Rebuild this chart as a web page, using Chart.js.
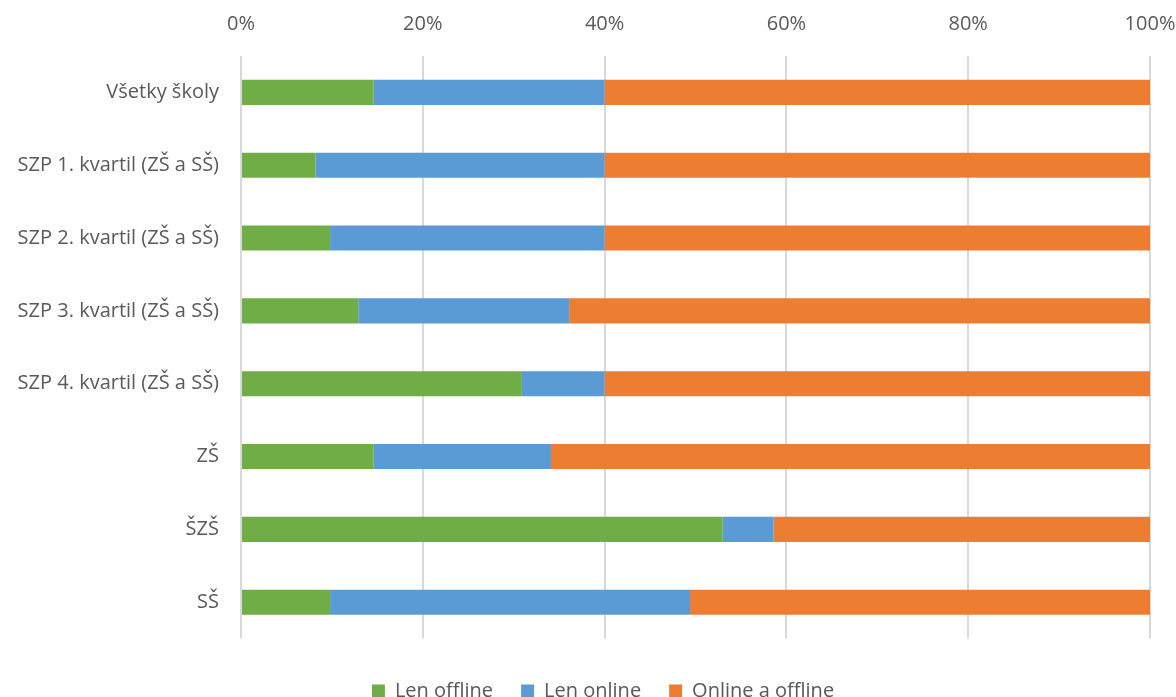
<!DOCTYPE html>
<html>
<head>
<meta charset="utf-8">
<script src="https://cdn.jsdelivr.net/npm/chart.js@4"></script>
<style>
  html, body { margin: 0; padding: 0; background: #fff; }
  #wrap { width: 1176px; height: 697px; }
</style>
</head>
<body>
<div id="wrap"><canvas id="skolyChart" width="1176" height="697"></canvas></div>
<script>
// údaje z grafu (percentá)
const categories = ['Všetky školy', 'SZP 1. kvartil (ZŠ a SŠ)', 'SZP 2. kvartil (ZŠ a SŠ)', 'SZP 3. kvartil (ZŠ a SŠ)', 'SZP 4. kvartil (ZŠ a SŠ)', 'ZŠ', 'ŠZŠ', 'SŠ'];
const lenOffline = [14.6, 8.2, 9.8, 12.9, 30.9, 14.6, 53.0, 9.8];
const lenOnline = [25.4, 31.8, 30.2, 23.2, 9.1, 19.5, 5.6, 39.6];
const onlineAOffline = [60.0, 60.0, 60.0, 63.9, 60.0, 65.9, 41.4, 50.6];
const tickValues = [0, 20, 40, 60, 80, 100];

const textColor = '#595959';
Chart.defaults.font.family = '"Open Sans", "Noto Sans", sans-serif';
Chart.defaults.font.size = 20;
Chart.defaults.color = textColor;

const ctx = document.getElementById('skolyChart');

// legenda je v origináli trochu posunutá doprava
const legendShift = {
  id: 'legendShift',
  afterLayout(chart) {
    chart.legend.left += 28;
    chart.legend.right += 28;
  }
};

const config = {
  type: 'bar',
  data: {
    labels: categories,
    datasets: [
      { label: 'Len offline', data: lenOffline, backgroundColor: '#70AD47' },
      { label: 'Len online', data: lenOnline, backgroundColor: '#5B9BD5' },
      { label: 'Online a offline', data: onlineAOffline, backgroundColor: '#ED7D31' }
    ]
  },
  options: {
    indexAxis: 'y',
    responsive: false,
    animation: false,
    datasets: {
      bar: { categoryPercentage: 1, barPercentage: 0.345, borderWidth: 0 }
    },
    layout: { padding: { left: 0, right: 26, top: 0, bottom: -14 } },
    scales: {
      x: {
        position: 'top',
        stacked: true,
        min: 0,
        max: 100,
        afterBuildTicks: function(scale) {
          scale.ticks = tickValues.map(v => ({ value: v }));
        },
        afterFit: function(scale) {
          scale.height = 56;
          scale.paddingRight = 0;
          scale.paddingLeft = 0;
        },
        ticks: {
          padding: 20,
          font: { size: 20 },
          callback: v => v + '%'
        },
        grid: { color: '#d9d9d9', lineWidth: 2, drawTicks: false },
        border: { display: false }
      },
      y: {
        stacked: true,
        afterFit: function(scale) { scale.width = 241; },
        ticks: { padding: 22, font: { size: 20 } },
        grid: { display: false, drawTicks: false },
        border: { display: false }
      }
    },
    plugins: {
      legend: {
        position: 'bottom',
        title: { display: true, text: '', padding: 0, font: { size: 12 } },
        labels: {
          boxWidth: 13,
          boxHeight: 13,
          padding: 28,
          font: { size: 20 }
        }
      },
      tooltip: { enabled: false }
    }
  },
  plugins: [legendShift]
};

new Chart(ctx, config);
</script>
</body>
</html>
